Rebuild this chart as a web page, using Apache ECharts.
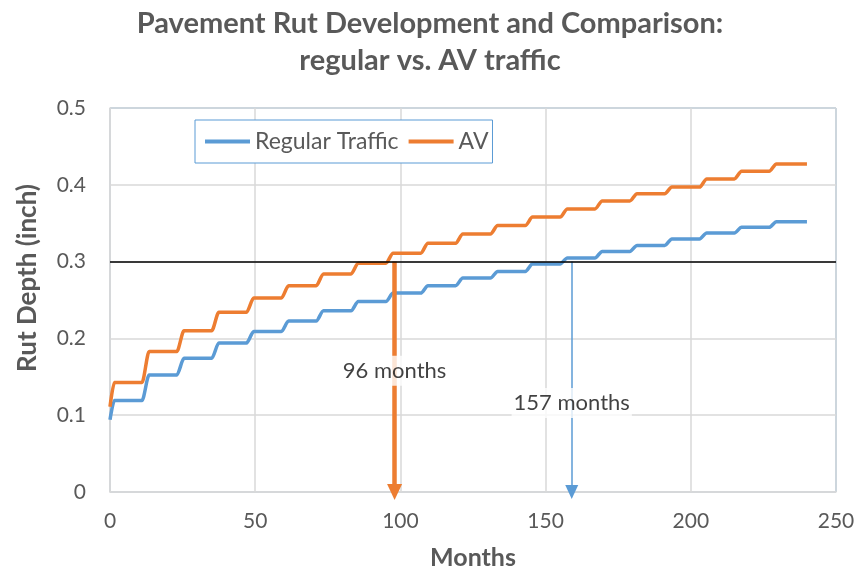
<!DOCTYPE html>
<html>
<head>
<meta charset="utf-8">
<script src="https://cdn.jsdelivr.net/npm/echarts@6/dist/echarts.min.js"></script>
<style>
html,body{margin:0;padding:0;background:#fff;}
#c{width:860px;height:575px;}
</style>
</head>
<body>
<div id="c"></div>
<script>
// ---- data ----
const seriesNames = ['Regular Traffic', 'AV'];
const regularStart = 0.094;            // month 0
const regularLevels = [0.119, 0.1525, 0.174, 0.194, 0.209, 0.2226, 0.236, 0.248, 0.259, 0.2686,
                       0.2786, 0.2872, 0.2969, 0.3047, 0.3133, 0.3211, 0.3294, 0.3373, 0.3446, 0.352];
const avStart = 0.111;                 // month 0
const avLevels = [0.1425, 0.183, 0.210, 0.234, 0.2525, 0.2686, 0.284, 0.298, 0.311, 0.324,
                  0.336, 0.347, 0.358, 0.3686, 0.379, 0.3885, 0.397, 0.4077, 0.4176, 0.4272];
const lastMonth = 240;
const thresholdDepth = 0.3;
const arrowMonths = [98, 159];
const arrowLabels = ['96 months', '157 months'];
const arrowLabelDepths = [0.158, 0.116];
const xTicks = [0, 50, 100, 150, 200, 250];
const yTicks = [0, 0.1, 0.2, 0.3, 0.4, 0.5];

// yearly stair-steps: rise happens around each 12-month boundary
function buildStairs(start, levels) {
  const pts = [[0, start]];
  levels.forEach((lv, k) => {
    pts.push([12 * k + 1.5, lv]);
    pts.push([k === levels.length - 1 ? lastMonth : 12 * k + 11, lv]);
  });
  return pts;
}

const BLUE = '#5B9BD5', ORANGE = '#ED7D31', GRAY = '#595959';
const FONT = 'Lato';

const chart = echarts.init(document.getElementById('c'), null, {renderer: 'canvas'});
chart.setOption({
  animation: false,
  backgroundColor: '#fff',
  title: {
    text: 'Pavement Rut Development and Comparison:\nregular vs. AV traffic',
    left: 'center', top: 0,
    textStyle: {fontFamily: FONT, fontWeight: 'bold', fontSize: 29, color: GRAY, lineHeight: 37}
  },
  legend: {
    data: seriesNames,
    left: 195, top: 120,
    padding: [10, 4, 10, 10],
    icon: 'rect',
    itemGap: 10, itemWidth: 45, itemHeight: 4,
    borderColor: BLUE, borderWidth: 1, backgroundColor: '#fff',
    textStyle: {fontFamily: FONT, fontSize: 23, color: GRAY}
  },
  grid: {left: 110, right: 24, top: 108, bottom: 83, show: true, borderColor: BLUE, borderWidth: 1, backgroundColor: 'transparent'},
  xAxis: {
    type: 'value', min: xTicks[0], max: xTicks[xTicks.length - 1], interval: 50,
    name: 'Months', nameLocation: 'middle', nameGap: 53,
    nameTextStyle: {fontFamily: FONT, fontWeight: 'bold', fontSize: 25, color: GRAY},
    axisLine: {show: true, lineStyle: {color: '#d9d9d9', width: 1.5}},
    axisTick: {show: false},
    axisLabel: {fontFamily: FONT, fontSize: 21, color: GRAY, margin: 19},
    splitLine: {show: true, lineStyle: {color: '#d9d9d9', width: 1.5}}
  },
  yAxis: {
    type: 'value', min: yTicks[0], max: yTicks[yTicks.length - 1], interval: 0.1,
    axisLine: {show: true, lineStyle: {color: '#d9d9d9', width: 1.5}},
    axisTick: {show: false},
    axisLabel: {fontFamily: FONT, fontSize: 21, color: GRAY, margin: 24},
    splitLine: {show: true, lineStyle: {color: '#d9d9d9', width: 1.5}}
  },
  graphic: [{
    type: 'text', left: 15, top: 184, rotation: Math.PI / 2,
    style: {text: 'Rut Depth (inch)', fontFamily: FONT, fontWeight: 'bold', fontSize: 26, fill: GRAY}
  }],
  series: [
    {
      name: seriesNames[0], type: 'line', data: buildStairs(regularStart, regularLevels),
      symbol: 'none', smooth: 0.3, smoothMonotone: 'x', color: BLUE,
      lineStyle: {width: 3.5, color: BLUE}, z: 3,
      markLine: {
        silent: true, symbol: ['none', 'triangle'], symbolSize: [13, 14],
        lineStyle: {color: BLUE, width: 1.5, type: 'solid'}, label: {show: false},
        data: [[{coord: [arrowMonths[1], thresholdDepth]}, {coord: [arrowMonths[1], 0]}]]
      }
    },
    {
      name: seriesNames[1], type: 'line', data: buildStairs(avStart, avLevels),
      symbol: 'none', smooth: 0.3, smoothMonotone: 'x', color: ORANGE,
      lineStyle: {width: 3.5, color: ORANGE}, z: 3,
      markLine: {
        silent: true, symbol: ['none', 'triangle'], symbolSize: [15, 16],
        lineStyle: {color: ORANGE, width: 4.5, type: 'solid'}, label: {show: false},
        data: [[{coord: [arrowMonths[0], thresholdDepth]}, {coord: [arrowMonths[0], 0]}]]
      }
    },
    {
      name: 'threshold', type: 'line', data: [], z: 4,
      markLine: {
        silent: true, symbol: ['none', 'none'],
        lineStyle: {color: '#000', width: 1.5, type: 'solid'}, label: {show: false},
        data: [{yAxis: thresholdDepth}]
      }
    },
    {
      name: 'notes', type: 'scatter', symbolSize: 0, z: 5,
      data: arrowMonths.map((m, i) => ({value: [m, arrowLabelDepths[i]], label: {formatter: arrowLabels[i]}})),
      label: {
        show: true, position: 'inside', fontFamily: FONT, fontSize: 22, color: '#111',
        backgroundColor: '#fff', padding: [4, 2]
      }
    }
  ]
});
</script>
</body>
</html>
